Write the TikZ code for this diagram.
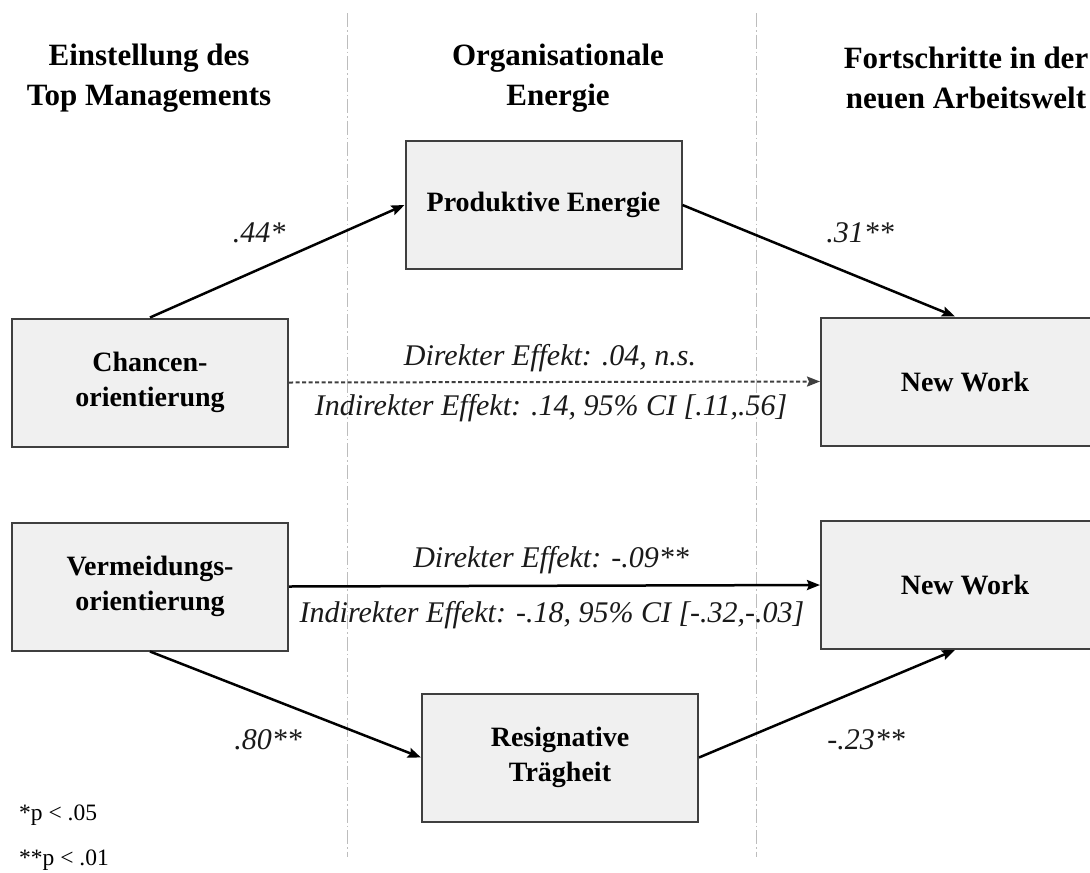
\documentclass[tikz,border=0pt]{standalone}
\usepackage{fontspec}
\setmainfont{Liberation Serif}
\usetikzlibrary{arrows.meta,calc}
\definecolor{boxfill}{HTML}{F0F0F0}
\definecolor{boxline}{HTML}{3F3F3F}
\definecolor{vline}{HTML}{BDBDBD}
\definecolor{labtext}{HTML}{1A1A1A}
\begin{document}
\begin{tikzpicture}[x=1pt,y=-1pt,
  box/.style={draw=boxline,fill=boxfill,line width=2pt,minimum width=276pt,minimum height=128pt,
    align=center,inner sep=0pt,font=\bfseries\fontsize{28}{35}\selectfont},
  header/.style={align=center,inner sep=0pt,font=\bfseries\fontsize{31}{40}\selectfont},
  lab/.style={inner sep=0pt,text=labtext,font=\itshape\fontsize{30}{36}\selectfont},
  note/.style={inner sep=0pt,anchor=west,font=\fontsize{23.5}{26}\selectfont},
  arr/.style={line width=2.5pt,-{Stealth[length=13pt,width=10pt,inset=2pt]}},
  darr/.style={line width=2pt,draw=boxline,dash pattern=on 4pt off 2.5pt,-{Stealth[length=13pt,width=10pt,inset=2pt]}},
  sep/.style={draw=vline,line width=1pt,dash pattern=on 14pt off 3pt on 1.5pt off 3pt}
]
\fill[white] (0,0) rectangle (1090,873);
\useasboundingbox (0,0) rectangle (1090,873);

% column separators
\coordinate (s1t) at (347,13);
\coordinate (s1b) at (347,857);
\coordinate (s2t) at (756,13);
\coordinate (s2b) at (756,857);
\draw[sep] (s1t) -- (s1b);
\draw[sep] (s2t) -- (s2b);

% headers
\node[header] (h1) at (149,78) {Einstellung des\\Top Managements};
\node[header] (h2) at (558,78) {Organisationale\\Energie};
\node[header] (h3) at (966,78) {Fortschritte in der\\neuen Arbeitswelt};

% boxes
\node[box] (prod) at (543.5,205) {Produktive Energie};
\node[box] (chance) at (150,382.5) {Chancen-\\orientierung};
\node[box,minimum width=288pt] (nw1) at (965,381.5) {New Work};
\node[box] (verm) at (150,586.5) {Vermeidungs-\\orientierung};
\node[box,minimum width=288pt] (nw2) at (965,585) {New Work};
\node[box] (resig) at (560,757.5) {Resignative\\Trägheit};

% connectors
\draw[arr] (chance.north) -- (prod.west);
\draw[arr] (prod.east) -- ([xshift=-10pt]nw1.north);
\draw[darr] (chance.east) -- (nw1.west);
\draw[arr] (verm.east) -- (nw2.west);
\draw[arr] (verm.south) -- (resig.west);
\draw[arr] (resig.east) -- ([xshift=-10pt]nw2.south);

% labels
\node[lab] (l44) at (259,233) {.44*};
\node[lab] (l31) at (860,233) {.31**};
\node[lab] (d1) at (550,358) {Direkter Effekt: .04, n.s.};
\node[lab] (i1) at (551,408) {Indirekter Effekt: .14, 95\% CI [.11,.56]};
\node[lab] (d2) at (551,560) {Direkter Effekt: -.09**};
\node[lab] (i2) at (552,615) {Indirekter Effekt: -.18, 95\% CI [-.32,-.03]};
\node[lab] (l80) at (268,740) {.80**};
\node[lab] (l23) at (866,740) {-.23**};

% notes
\node[note] (n1) at (19,815) {*p < .05};
\node[note] (n2) at (19,860) {**p < .01};
\end{tikzpicture}
\end{document}
